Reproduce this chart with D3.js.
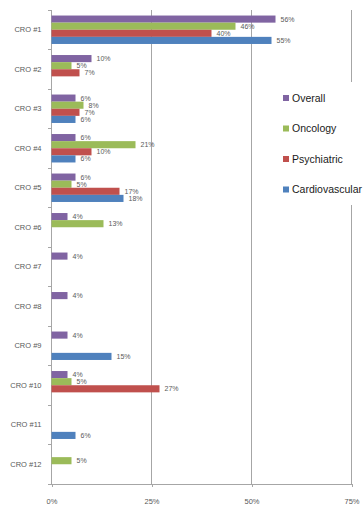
<!DOCTYPE html>
<html>
<head>
<meta charset="utf-8">
<script src="https://cdn.jsdelivr.net/npm/d3@7"></script>
<style>
  html, body { margin: 0; padding: 0; background: #fff; }
  svg { display: block; font-family: "Liberation Sans", Arial, sans-serif; }
</style>
</head>
<body>
<svg id="chart" width="363" height="508"></svg>
<script>
// Share of studies by CRO, per therapeutic area (percent; null = no bar)
const categories = ["CRO #1", "CRO #2", "CRO #3", "CRO #4", "CRO #5", "CRO #6",
                    "CRO #7", "CRO #8", "CRO #9", "CRO #10", "CRO #11", "CRO #12"];
const seriesNames = ["Overall", "Oncology", "Psychiatric", "Cardiovascular"];
const overall        = [56, 10, 6, 6, 6, 4, 4, 4, 4, 4, null, null];
const oncology       = [46, 5, 8, 21, 5, 13, null, null, null, 5, null, 5];
const psychiatric    = [40, 7, 7, 10, 17, null, null, null, null, 27, null, null];
const cardiovascular = [55, null, 6, 6, 18, null, null, null, 15, null, 6, null];
const seriesColors = ["#8064A2", "#9BBB59", "#C0504D", "#4F81BD"];
const xTicks = [0, 25, 50, 75];

const seriesValues = [overall, oncology, psychiatric, cardiovascular];

const svg = d3.select("#chart");
const plot = { left: 51.5, right: 351.5, top: 10, bottom: 484 };

const x = d3.scaleLinear().domain([0, 75]).range([plot.left, plot.right]);
const y0 = d3.scaleBand().domain(categories).range([plot.top, plot.bottom]);
const groupH = y0.bandwidth() * 0.72;
const y1 = d3.scaleBand().domain(seriesNames)
  .range([(y0.bandwidth() - groupH) / 2, (y0.bandwidth() + groupH) / 2]);

const gridColor = "#a6a6a6";
const textColor = "#595959";

// vertical gridlines
svg.append("g").selectAll("line")
  .data(xTicks.filter(t => t > 0))
  .join("line")
  .attr("x1", d => x(d)).attr("x2", d => x(d))
  .attr("y1", plot.top).attr("y2", plot.bottom)
  .attr("stroke", gridColor).attr("stroke-width", 1)
  .attr("shape-rendering", "crispEdges");

// bottom value axis
const xAxis = svg.append("g")
  .attr("transform", `translate(0,${plot.bottom})`)
  .call(d3.axisBottom(x).tickValues(xTicks).tickFormat(d => d + "%").tickSizeInner(3).tickSizeOuter(0).tickPadding(12));
xAxis.select(".domain").attr("stroke", gridColor).attr("shape-rendering", "crispEdges");
xAxis.selectAll(".tick line").attr("stroke", gridColor).attr("shape-rendering", "crispEdges");
xAxis.selectAll("text").attr("fill", textColor).attr("font-size", "7.5px");

// left category axis with ticks between categories
const yAxis = svg.append("g")
  .attr("transform", `translate(${plot.left},0)`);
yAxis.append("line")
  .attr("x1", 0).attr("x2", 0).attr("y1", plot.top).attr("y2", plot.bottom)
  .attr("stroke", gridColor).attr("shape-rendering", "crispEdges");
yAxis.selectAll("line.tick")
  .data(categories.map(c => y0(c)).concat([plot.bottom]))
  .join("line").attr("class", "tick")
  .attr("x1", -4).attr("x2", 0)
  .attr("y1", d => d).attr("y2", d => d)
  .attr("stroke", gridColor).attr("shape-rendering", "crispEdges");
yAxis.selectAll("text")
  .data(categories)
  .join("text")
  .attr("x", -10)
  .attr("y", d => y0(d) + y0.bandwidth() / 2)
  .attr("dy", "0.35em")
  .attr("text-anchor", "end")
  .attr("fill", textColor)
  .attr("font-size", "7.5px")
  .text(d => d);

// bars and value labels
const rows = [];
categories.forEach((c, ci) => {
  seriesNames.forEach((s, si) => {
    const v = seriesValues[si][ci];
    if (v !== null) rows.push({ category: c, series: s, value: v, color: seriesColors[si] });
  });
});

const groups = svg.append("g");
groups.selectAll("rect")
  .data(rows)
  .join("rect")
  .attr("x", x(0))
  .attr("y", d => y0(d.category) + y1(d.series))
  .attr("width", d => x(d.value) - x(0))
  .attr("height", y1.bandwidth())
  .attr("fill", d => d.color);

groups.selectAll("text")
  .data(rows)
  .join("text")
  .attr("x", d => x(d.value) + 5)
  .attr("y", d => y0(d.category) + y1(d.series) + y1.bandwidth() / 2)
  .attr("dy", "0.35em")
  .attr("fill", textColor)
  .attr("font-size", "7px")
  .text(d => d.value + "%");

// legend on a white panel
const legend = svg.append("g");
legend.append("rect")
  .attr("x", 276).attr("y", 82).attr("width", 90).attr("height", 123)
  .attr("fill", "#fff");
const items = legend.selectAll("g.item")
  .data(seriesNames)
  .join("g").attr("class", "item")
  .attr("transform", (d, i) => `translate(283,${98 + i * 30.5})`);
items.append("rect")
  .attr("x", 0).attr("y", -3).attr("width", 6).attr("height", 6)
  .attr("fill", (d, i) => seriesColors[i]);
items.append("text")
  .attr("x", 9).attr("y", 0).attr("dy", "0.35em")
  .attr("fill", "#1a1a1a")
  .attr("font-size", "10.5px")
  .text(d => d);
</script>
</body>
</html>
